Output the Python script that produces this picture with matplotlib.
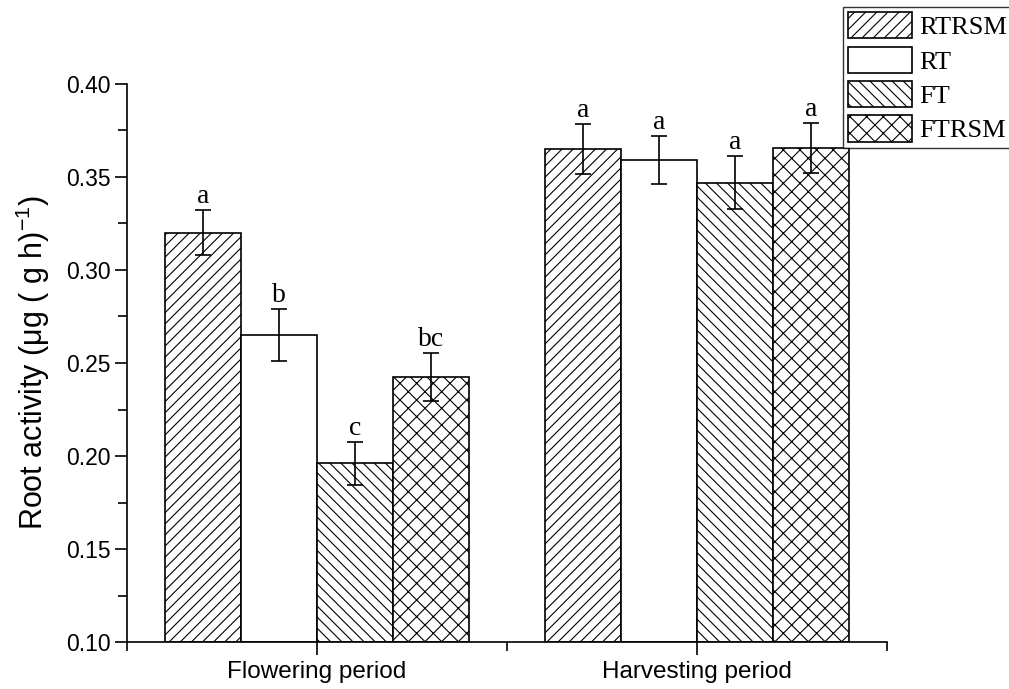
import numpy as np
import matplotlib
matplotlib.use("Agg")
import matplotlib.pyplot as plt
from matplotlib.patches import Patch

plt.rcParams['font.family'] = ['Liberation Sans', 'DejaVu Sans']
plt.rcParams['mathtext.fontset'] = 'custom'
plt.rcParams['mathtext.rm'] = 'Liberation Sans'
plt.rcParams['mathtext.it'] = 'Liberation Sans:italic'
plt.rcParams['hatch.linewidth'] = 0.8

periods = ["Flowering period", "Harvesting period"]
treatments = ["RTRSM", "RT", "FT", "FTRSM"]
hatches = ["///", "", "\\\\\\", "xx"]
# mean root activity per treatment, one value per period
means = {
    "RTRSM": [0.320, 0.365],
    "RT":    [0.265, 0.359],
    "FT":    [0.196, 0.347],
    "FTRSM": [0.2425, 0.3655],
}
errs = {
    "RTRSM": [0.012, 0.0135],
    "RT":    [0.014, 0.013],
    "FT":    [0.0115, 0.0143],
    "FTRSM": [0.0128, 0.0135],
}
letters = {
    "RTRSM": ["a", "a"],
    "RT":    ["b", "a"],
    "FT":    ["c", "a"],
    "FTRSM": ["bc", "a"],
}

fig = plt.figure(figsize=(10.09, 6.89), dpi=100)
ax = fig.add_axes([0.1259, 0.0682, 0.7532, 0.8099])

x = np.array([1, 2])
w = 0.2
for i, t in enumerate(treatments):
    xi = x + (i - 1.5) * w
    ax.bar(xi, np.array(means[t]) - 0.10, w, bottom=0.10, color="white",
           edgecolor="black", linewidth=1.2, hatch=hatches[i], zorder=2)
    ax.errorbar(xi, means[t], yerr=errs[t], fmt="none", ecolor="black",
                elinewidth=1.2, capsize=6, capthick=1.2, zorder=3)
    for k in range(2):
        ax.annotate(letters[t][k], (xi[k], means[t][k] + errs[t][k]),
                    xytext=(0, 1), textcoords="offset points",
                    ha="center", va="bottom", fontsize=20,
                    family="Liberation Serif")

ax.set_xlim(0.5, 2.5)
ax.set_ylim(0.10, 0.40)
ax.set_xticks(x)
ax.set_xticklabels(periods, fontsize=17.5)
ax.set_xticks([0.5, 1.5, 2.5], minor=True)
yt = np.arange(0.10, 0.401, 0.05)
ax.set_yticks(yt)
ax.set_yticklabels([f"{v:.2f}" for v in yt], fontsize=16.5)
ax.set_yticks(np.arange(0.125, 0.40, 0.05), minor=True)
ax.tick_params(axis="both", which="major", direction="out", length=9, width=1.2)
ax.tick_params(axis="both", which="minor", direction="out", length=6.5, width=1.2)
ax.tick_params(axis="y", pad=3)
ax.tick_params(axis="x", pad=5)
ax.set_ylabel("Root activity (μg ( g h)$^{-1}$)", fontsize=22, labelpad=10)
for s in ["top", "right"]:
    ax.spines[s].set_visible(False)
for s in ["left", "bottom"]:
    ax.spines[s].set_linewidth(1.2)

handles = [Patch(facecolor="white", edgecolor="black", hatch=h, linewidth=1.2)
           for h in hatches]
leg = fig.legend(handles, treatments, loc="upper left",
                 bbox_to_anchor=(0.8355, 0.99), frameon=True, fancybox=False,
                 edgecolor="black", handlelength=2.4, handleheight=1.15,
                 handletextpad=0.3, labelspacing=0.28, borderpad=0.2,
                 borderaxespad=0, prop={"family": "Liberation Serif", "size": 19})
leg.get_frame().set_linewidth(1.0)

fig.savefig("out.png", dpi=100)
